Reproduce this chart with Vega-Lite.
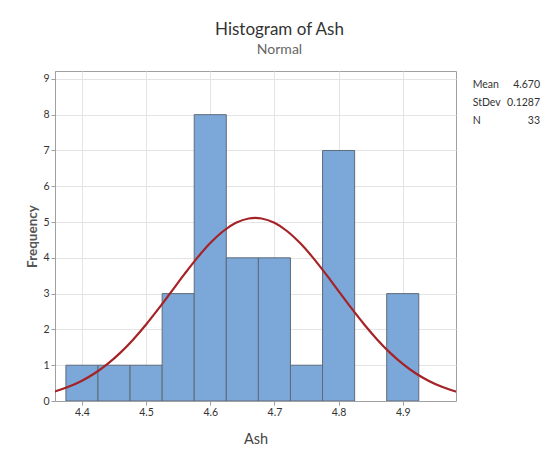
{
  "$schema": "https://vega.github.io/schema/vega-lite/v6.json",
  "width": 401,
  "height": 330,
  "autosize": {"type": "none"},
  "padding": {"left": 55, "top": 71, "right": 94, "bottom": 62},
  "background": "white",
  "config": {
    "font": "Lato",
    "view": {"stroke": "#a0a0a0", "strokeWidth": 1},
    "axis": {
      "labelFontSize": 10.5,
      "labelColor": "#333333",
      "labelPadding": 2,
      "tickSize": 4,
      "tickColor": "#a0a0a0",
      "domainColor": "#a0a0a0",
      "gridColor": "#e4e4e4",
      "labelOverlap": false
    }
  },
  "title": {
    "text": "Histogram of Ash",
    "subtitle": "Normal",
    "anchor": "middle",
    "dx": 24,
    "offset": 13,
    "fontSize": 17,
    "fontWeight": "normal",
    "color": "#333333",
    "subtitleFontSize": 14,
    "subtitleColor": "#666666",
    "subtitlePadding": 4
  },
  "datasets": {
    "bins": [
      {"lo": 4.375, "hi": 4.425, "count": 1},
      {"lo": 4.425, "hi": 4.475, "count": 1},
      {"lo": 4.475, "hi": 4.525, "count": 1},
      {"lo": 4.525, "hi": 4.575, "count": 3},
      {"lo": 4.575, "hi": 4.625, "count": 8},
      {"lo": 4.625, "hi": 4.675, "count": 4},
      {"lo": 4.675, "hi": 4.725, "count": 4},
      {"lo": 4.725, "hi": 4.775, "count": 1},
      {"lo": 4.775, "hi": 4.825, "count": 7},
      {"lo": 4.875, "hi": 4.925, "count": 3}
    ],
    "curve": [
      {"x": 4.34, "density": 0.191},
      {"x": 4.36, "density": 0.281},
      {"x": 4.38, "density": 0.404},
      {"x": 4.40, "density": 0.566},
      {"x": 4.42, "density": 0.775},
      {"x": 4.44, "density": 1.036},
      {"x": 4.46, "density": 1.351},
      {"x": 4.48, "density": 1.720},
      {"x": 4.50, "density": 2.138},
      {"x": 4.52, "density": 2.593},
      {"x": 4.54, "density": 3.071},
      {"x": 4.56, "density": 3.550},
      {"x": 4.58, "density": 4.006},
      {"x": 4.60, "density": 4.412},
      {"x": 4.62, "density": 4.743},
      {"x": 4.64, "density": 4.978},
      {"x": 4.66, "density": 5.100},
      {"x": 4.67, "density": 5.115},
      {"x": 4.68, "density": 5.100},
      {"x": 4.70, "density": 4.978},
      {"x": 4.72, "density": 4.743},
      {"x": 4.74, "density": 4.412},
      {"x": 4.76, "density": 4.006},
      {"x": 4.78, "density": 3.550},
      {"x": 4.80, "density": 3.071},
      {"x": 4.82, "density": 2.593},
      {"x": 4.84, "density": 2.138},
      {"x": 4.86, "density": 1.720},
      {"x": 4.88, "density": 1.351},
      {"x": 4.90, "density": 1.036},
      {"x": 4.92, "density": 0.775},
      {"x": 4.94, "density": 0.566},
      {"x": 4.96, "density": 0.404},
      {"x": 4.98, "density": 0.281},
      {"x": 5.00, "density": 0.191}
    ],
    "stats": [
      {"label": "Mean", "value": "4.670"},
      {"label": "StDev", "value": "0.1287"},
      {"label": "N", "value": "33"}
    ]
  },
  "layer": [
    {
      "layer": [
        {
          "data": {"name": "bins"},
          "mark": {"type": "rect", "fill": "#7ba7d9", "stroke": "#5f6b78", "strokeWidth": 1, "clip": true},
          "encoding": {
            "x": {
              "field": "lo",
              "type": "quantitative",
              "scale": {"domain": [4.358, 4.983], "nice": false, "zero": false},
              "axis": {
                "title": "Ash",
                "values": [4.4, 4.5, 4.6, 4.7, 4.8, 4.9],
                "format": ".1f",
                "titleFontSize": 14.5,
                "titleFontWeight": "normal",
                "titleColor": "#444444",
                "titlePadding": 15
              }
            },
            "x2": {"field": "hi"},
            "y": {
              "field": "count",
              "type": "quantitative",
              "scale": {"domain": [0, 9.22], "nice": false},
              "axis": {
                "title": "Frequency",
                "values": [0, 1, 2, 3, 4, 5, 6, 7, 8, 9],
                "titleFontSize": 13.5,
                "titleFontWeight": "bold",
                "titleColor": "#555555",
                "titlePadding": 3
              }
            },
            "y2": {"datum": 0}
          }
        },
        {
          "data": {"name": "curve"},
          "mark": {"type": "line", "color": "#a52326", "strokeWidth": 2.2, "clip": true, "interpolate": "monotone"},
          "encoding": {
            "x": {
              "field": "x",
              "type": "quantitative",
              "axis": {
                "title": "Ash",
                "values": [4.4, 4.5, 4.6, 4.7, 4.8, 4.9],
                "format": ".1f",
                "titleFontSize": 14.5,
                "titleFontWeight": "normal",
                "titleColor": "#444444",
                "titlePadding": 15
              }
            },
            "y": {
              "field": "density",
              "type": "quantitative",
              "axis": {
                "title": "Frequency",
                "values": [0, 1, 2, 3, 4, 5, 6, 7, 8, 9],
                "titleFontSize": 13.5,
                "titleFontWeight": "bold",
                "titleColor": "#555555",
                "titlePadding": 3
              }
            }
          }
        }
      ]
    },
    {
      "data": {"name": "stats"},
      "encoding": {
        "y": {
          "field": "label",
          "type": "nominal",
          "scale": {"type": "point", "domain": ["Mean", "StDev", "N"], "range": [14, 50], "padding": 0},
          "axis": null
        }
      },
      "layer": [
        {
          "mark": {"type": "text", "align": "left", "baseline": "middle", "fontSize": 10.5, "color": "#333333"},
          "encoding": {
            "x": {"datum": 5.009, "type": "quantitative"},
            "text": {"field": "label"}
          }
        },
        {
          "mark": {"type": "text", "align": "right", "baseline": "middle", "fontSize": 10.5, "color": "#333333"},
          "encoding": {
            "x": {"datum": 5.114, "type": "quantitative"},
            "text": {"field": "value"}
          }
        }
      ]
    }
  ],
  "resolve": {"scale": {"y": "independent"}}
}
